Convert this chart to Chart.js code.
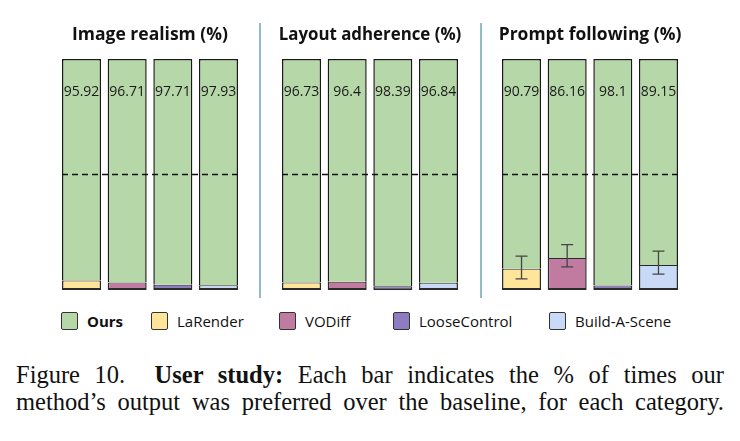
<!DOCTYPE html>
<html>
<head>
<meta charset="utf-8">
<script src="https://cdn.jsdelivr.net/npm/chart.js@4.4.1/dist/chart.umd.min.js"></script>
<style>
  html, body { margin: 0; padding: 0; background: #fff; }
  #wrap { position: relative; width: 740px; height: 441px; overflow: hidden; }
  canvas { position: absolute; top: 0; }
  .sep { position: absolute; top: 23px; width: 2px; height: 275px; background: #8fbcc8; }
  .lg { position: absolute; top: 312px; height: 18px; display: flex; align-items: center;
        font-family: "Open Sans", sans-serif; font-size: 15px; color: #111; white-space: nowrap; }
  .lg span.box { display: inline-block; width: 15px; height: 16px; border: 1.5px solid #333;
        border-radius: 2px; margin-right: 9px; }
  .cap { position: absolute; left: 16px; width: 708px; font-family: "Liberation Serif", serif;
         font-size: 24.5px; line-height: 26px; color: #111; white-space: nowrap;
         text-align: justify; text-align-last: justify; }
</style>
</head>
<body>
<div id="wrap">
  <canvas id="c1" width="220" height="300" style="left:40px"></canvas>
  <canvas id="c2" width="220" height="300" style="left:260px"></canvas>
  <canvas id="c3" width="220" height="300" style="left:480px"></canvas>
  <div class="sep" style="left:259px"></div>
  <div class="sep" style="left:480px"></div>
  <div id="legend"></div>
  <div class="cap" style="top:362px">Figure 10.&nbsp; <b>User study:</b> Each bar indicates the % of times our</div>
  <div class="cap" style="top:389px">method’s output was preferred over the baseline, for each category.</div>
</div>
<script>
const categories = ["LaRender", "VODiff", "LooseControl", "Build-A-Scene"];
const realismOurs = [95.92, 96.71, 97.71, 97.93];
const layoutOurs = [96.73, 96.4, 98.39, 96.84];
const promptOurs = [90.79, 86.16, 98.1, 89.15];
const promptErrLow = [4.8, 10.0, null, 6.9];
const promptErrHigh = [14.7, 19.6, null, 16.8];

const oursColor = "#b6d7a8";
const baseColors = ["#ffe599", "#c27ba0", "#8e7cc3", "#c9daf8"];

// legend (HTML)
const legendItems = [["Ours", oursColor, 61, true]].concat(
  categories.map((c, i) => [c, baseColors[i], [151, 279, 393, 549][i], false]));
const lg = document.getElementById("legend");
legendItems.forEach(([name, col, x, bold]) => {
  const d = document.createElement("div");
  d.className = "lg";
  d.style.left = x + "px";
  d.innerHTML = '<span class="box" style="background:' + col + '"></span>' +
    (bold ? "<b>" + name + "</b>" : name);
  lg.appendChild(d);
});

const extras = {
  id: "extras",
  afterDatasetsDraw(chart, args, opts) {
    const ctx = chart.ctx;
    const y = chart.scales.y;
    const bars = chart.getDatasetMeta(1).data;
    ctx.save();
    // error bars
    if (opts.low) {
      ctx.strokeStyle = "#444";
      ctx.lineWidth = 1.3;
      bars.forEach((b, i) => {
        if (opts.low[i] == null) return;
        const y0 = y.getPixelForValue(opts.low[i]);
        const y1 = y.getPixelForValue(opts.high[i]);
        ctx.beginPath();
        ctx.moveTo(b.x, y0); ctx.lineTo(b.x, y1);
        ctx.moveTo(b.x - 6, y0); ctx.lineTo(b.x + 6, y0);
        ctx.moveTo(b.x - 6, y1); ctx.lineTo(b.x + 6, y1);
        ctx.stroke();
      });
    }
    // 50% dashed line
    const first = bars[0], last = bars[bars.length - 1];
    const ym = y.getPixelForValue(50);
    ctx.strokeStyle = "#111";
    ctx.lineWidth = 1.6;
    ctx.setLineDash([6, 4]);
    ctx.beginPath();
    ctx.moveTo(first.x - first.width / 2, ym);
    ctx.lineTo(last.x + last.width / 2, ym);
    ctx.stroke();
    ctx.setLineDash([]);
    // value labels
    ctx.fillStyle = "#1a1a1a";
    ctx.font = "14px 'Open Sans'";
    ctx.textAlign = "center";
    ctx.textBaseline = "middle";
    const yl = y.getPixelForValue(85.7);
    bars.forEach((b, i) => {
      ctx.fillText(String(chart.data.datasets[1].data[i]), b.x, yl);
    });
    ctx.restore();
  }
};

function makePanel(id, title, ours, low, high) {
  new Chart(document.getElementById(id), {
    type: "bar",
    data: {
      labels: categories,
      datasets: [
        {
          label: "Baseline",
          data: ours.map(v => +(100 - v).toFixed(2)),
          backgroundColor: baseColors,
          borderColor: "#2a2a2a",
          borderWidth: { top: 1, left: 1.5, right: 1.5, bottom: 2 },
          borderSkipped: false
        },
        {
          label: "Ours",
          data: ours,
          backgroundColor: oursColor,
          borderColor: "#1a1a1a",
          borderWidth: { top: 1.5, left: 1.5, right: 1.5, bottom: 0 },
          borderSkipped: false
        }
      ]
    },
    options: {
      responsive: false,
      animation: false,
      layout: { padding: { left: 18.7, right: 18.7, top: 0, bottom: 10 } },
      datasets: { bar: { categoryPercentage: 1, barPercentage: 0.855 } },
      plugins: {
        legend: { display: false },
        tooltip: { enabled: false },
        title: {
          display: true,
          text: title,
          color: "#111",
          font: { family: "'Open Sans'", weight: "bold", size: 17.5 },
          padding: { top: 25, bottom: 13 }
        },
        extras: { low: low, high: high }
      },
      scales: {
        x: { stacked: true, display: false },
        y: { stacked: true, display: false, min: 0, max: 100 }
      }
    },
    plugins: [extras]
  });
}

makePanel("c1", "Image realism (%)", realismOurs, null, null);
makePanel("c2", "Layout adherence (%)", layoutOurs, null, null);
makePanel("c3", "Prompt following (%)", promptOurs, promptErrLow, promptErrHigh);
</script>
</body>
</html>
